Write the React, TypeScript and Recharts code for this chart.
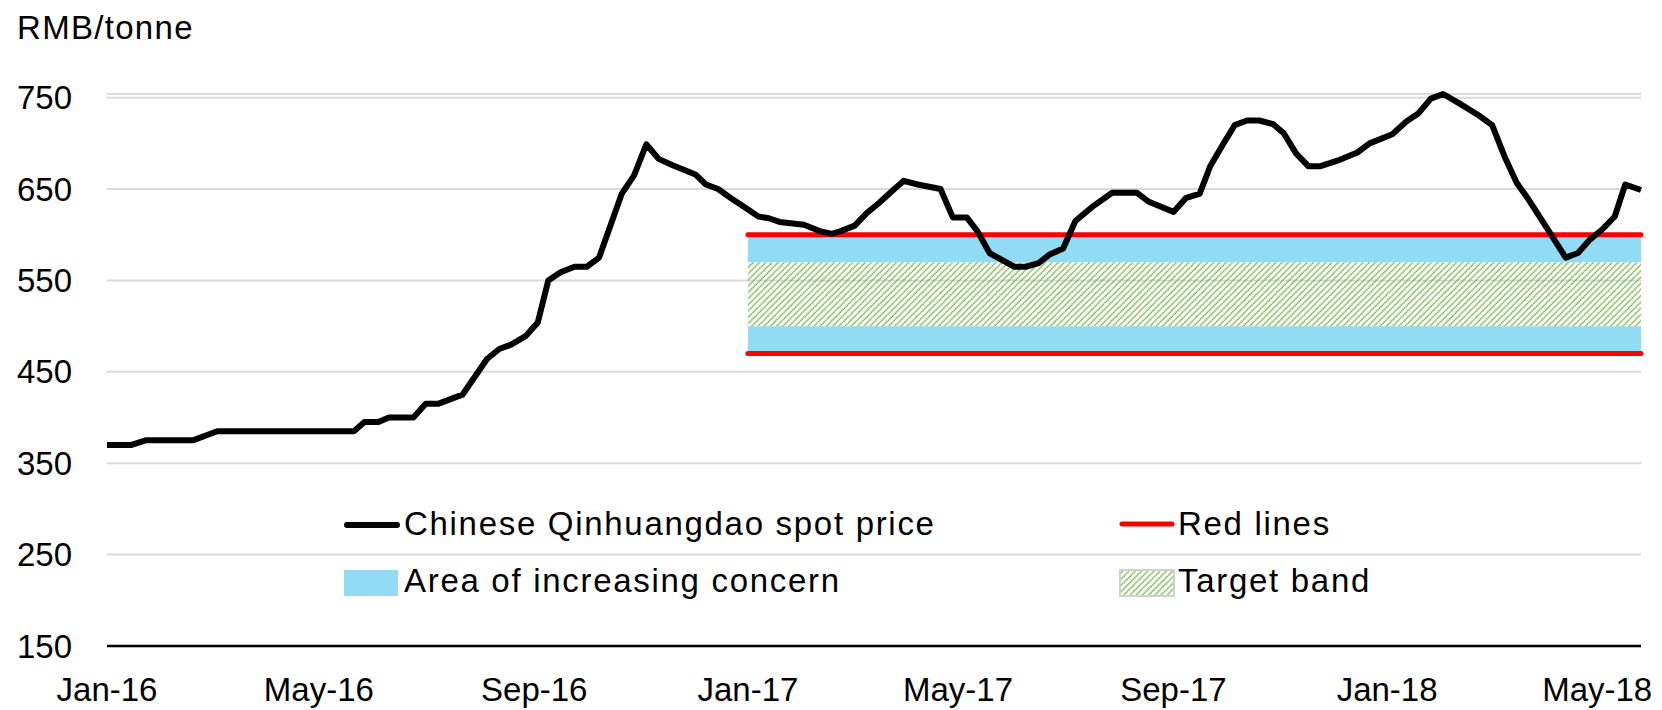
import React from 'react';
import {
  LineChart, Line, XAxis, YAxis, CartesianGrid, ReferenceArea, ReferenceLine
} from 'recharts';

// Qinhuangdao thermal coal spot price, RMB/tonne
const dates = [
  '2016-01-01', '2016-01-15', '2016-01-23', '2016-02-19', '2016-03-04', '2016-05-21',
  '2016-05-27', '2016-06-04', '2016-06-10', '2016-06-24', '2016-07-01', '2016-07-08',
  '2016-07-22', '2016-08-05', '2016-08-12', '2016-08-19', '2016-08-27', '2016-09-03',
  '2016-09-09', '2016-09-16', '2016-09-24', '2016-10-01', '2016-10-08', '2016-10-21',
  '2016-10-28', '2016-11-04', '2016-11-11', '2016-11-19', '2016-12-02', '2016-12-08',
  '2016-12-15', '2016-12-23', '2016-12-31', '2017-01-07', '2017-01-13', '2017-01-19',
  '2017-02-02', '2017-02-11', '2017-02-18', '2017-02-23', '2017-03-03', '2017-03-10',
  '2017-03-17', '2017-03-25', '2017-03-31', '2017-04-08', '2017-04-21', '2017-04-28',
  '2017-05-06', '2017-05-12', '2017-05-19', '2017-06-02', '2017-06-09', '2017-06-16',
  '2017-06-22', '2017-06-30', '2017-07-07', '2017-07-17', '2017-07-28', '2017-08-11',
  '2017-08-18', '2017-09-01', '2017-09-08', '2017-09-16', '2017-09-22', '2017-09-29',
  '2017-10-06', '2017-10-13', '2017-10-20', '2017-10-28', '2017-11-03', '2017-11-10',
  '2017-11-17', '2017-11-24', '2017-12-05', '2017-12-15', '2017-12-22', '2018-01-04',
  '2018-01-12', '2018-01-19', '2018-01-26', '2018-02-02', '2018-02-11', '2018-02-22',
  '2018-03-02', '2018-03-09', '2018-03-16', '2018-03-23', '2018-04-02', '2018-04-13',
  '2018-04-20', '2018-04-27', '2018-05-04', '2018-05-11', '2018-05-17', '2018-05-26',
];
const prices = [
  370, 370, 375, 375, 385, 385,
  395, 395, 400, 400, 415, 415,
  425, 464, 475, 480, 489, 504,
  550, 559, 565, 565, 575, 645,
  665, 699, 683, 676, 666, 655,
  650, 639, 629, 620, 618, 614,
  611, 604, 601, 604, 610, 624,
  635, 649, 659, 655, 650, 619,
  619, 604, 580, 565, 565, 569,
  578, 585, 615, 631, 646, 646,
  636, 625, 640, 645, 675, 698,
  720, 725, 725, 721, 711, 689,
  675, 675, 682, 690, 700, 710,
  724, 733, 749, 754, 744, 731,
  720, 686, 657, 638, 608, 575,
  580, 595, 606, 620, 655, 649,
];

const tickDates = ['2016-01-01', '2016-05-01', '2016-09-01', '2017-01-01', '2017-05-01', '2017-09-01', '2018-01-01', '2018-05-01'];
const tickLabels = ['Jan-16', 'May-16', 'Sep-16', 'Jan-17', 'May-17', 'Sep-17', 'Jan-18', 'May-18'];
const yTicks = [150, 250, 350, 450, 550, 650, 750];

const bandStart = '2017-01-01';
const redLines = [470, 600];
const concernBands = [[470, 500], [570, 600]];
const targetBand = [500, 570];

const FONT = '"Liberation Sans", Arial, sans-serif';

const dayIndex = (iso: string) => {
  const [y, m, d] = iso.split('-').map(Number);
  return (Date.UTC(y, m - 1, d) - Date.UTC(2016, 0, 1)) / 86400000;
};

const data = dates.map((d, i) => ({ day: dayIndex(d), price: prices[i] }));
const ticks = tickDates.map(dayIndex);
const xStart = dayIndex(bandStart);
const xEnd = data[data.length - 1].day;

const YTick = ({ y, payload }: any) => (
  <text x={72} y={y} dy="0.35em" textAnchor="end" fontSize={33} fontFamily={FONT} fill="#000">
    {payload.value}
  </text>
);

const XTick = ({ x, payload }: any) => (
  <text x={x} y={701} textAnchor="middle" fontSize={33} fontFamily={FONT} fill="#000">
    {tickLabels[ticks.indexOf(payload.value)]}
  </text>
);

const legendText = { fontSize: 33, fontFamily: FONT, fill: '#000', letterSpacing: 1.7 };

const Overlay = () => (
  <svg width={1662} height={710} style={{ position: 'absolute', left: 0, top: 0, pointerEvents: 'none' }}>
    <defs>
      <pattern id="targetHatch" width={4.4} height={4} patternUnits="userSpaceOnUse" patternTransform="rotate(45)">
        <line x1={1} y1={0} x2={1} y2={4} stroke="#6bb23a" strokeWidth={1.5} strokeDasharray="1.5 0.5" />
      </pattern>
    </defs>
    <text x={17} y={39} fontSize={33} fontFamily={FONT} fill="#000" letterSpacing={1.3}>RMB/tonne</text>

    {/* legend */}
    <line x1={347} y1={525} x2={397} y2={525} stroke="#000" strokeWidth={6} strokeLinecap="round" />
    <text x={404} y={535} {...legendText}>Chinese Qinhuangdao spot price</text>
    <line x1={1122} y1={524} x2={1172} y2={524} stroke="#ff0000" strokeWidth={5} strokeLinecap="round" />
    <text x={1178} y={535} {...legendText}>Red lines</text>
    <rect x={344} y={570} width={54} height={26} fill="#91dbf5" />
    <text x={404} y={592} {...legendText}>Area of increasing concern</text>
    <rect x={1120} y={570} width={54} height={26} fill="url(#targetHatch)" stroke="#d0d0d0" strokeWidth={2} />
    <text x={1178} y={592} {...legendText}>Target band</text>
  </svg>
);

export default function App() {
  return (
    <div style={{ position: 'absolute', left: 0, top: 0, width: 1662, height: 710, background: '#fff' }}>
      <LineChart
        width={1662}
        height={710}
        data={data}
        margin={{ top: 94, right: 21, bottom: 0, left: 0 }}
      >
        <CartesianGrid horizontal vertical={false} stroke="#d9d9d9" strokeWidth={2} />
        <XAxis
          dataKey="day"
          type="number"
          domain={[0, xEnd]}
          ticks={ticks}
          tick={<XTick />}
          tickLine={false}
          axisLine={{ stroke: '#000', strokeWidth: 2.5 }}
          height={64}
          interval={0}
        />
        <YAxis
          domain={[150, 750]}
          ticks={yTicks}
          tick={<YTick />}
          tickLine={false}
          axisLine={false}
          width={107}
          interval={0}
        />
        {concernBands.map(([lo, hi]) => (
          <ReferenceArea key={lo} x1={xStart} x2={xEnd} y1={lo} y2={hi} fill="#91dbf5" fillOpacity={1} stroke="none" />
        ))}
        <ReferenceArea x1={xStart} x2={xEnd} y1={targetBand[0]} y2={targetBand[1]} fill="url(#targetHatch)" fillOpacity={1} stroke="none" />
        {redLines.map((v) => (
          <ReferenceLine
            key={v}
            segment={[{ x: xStart, y: v }, { x: xEnd, y: v }]}
            stroke="#ff0000"
            strokeWidth={5}
            strokeLinecap="round"
          />
        ))}
        <Line
          type="linear"
          dataKey="price"
          stroke="#000"
          strokeWidth={6}
          strokeLinejoin="round"
          dot={false}
          isAnimationActive={false}
        />
      </LineChart>
      <Overlay />
    </div>
  );
}
